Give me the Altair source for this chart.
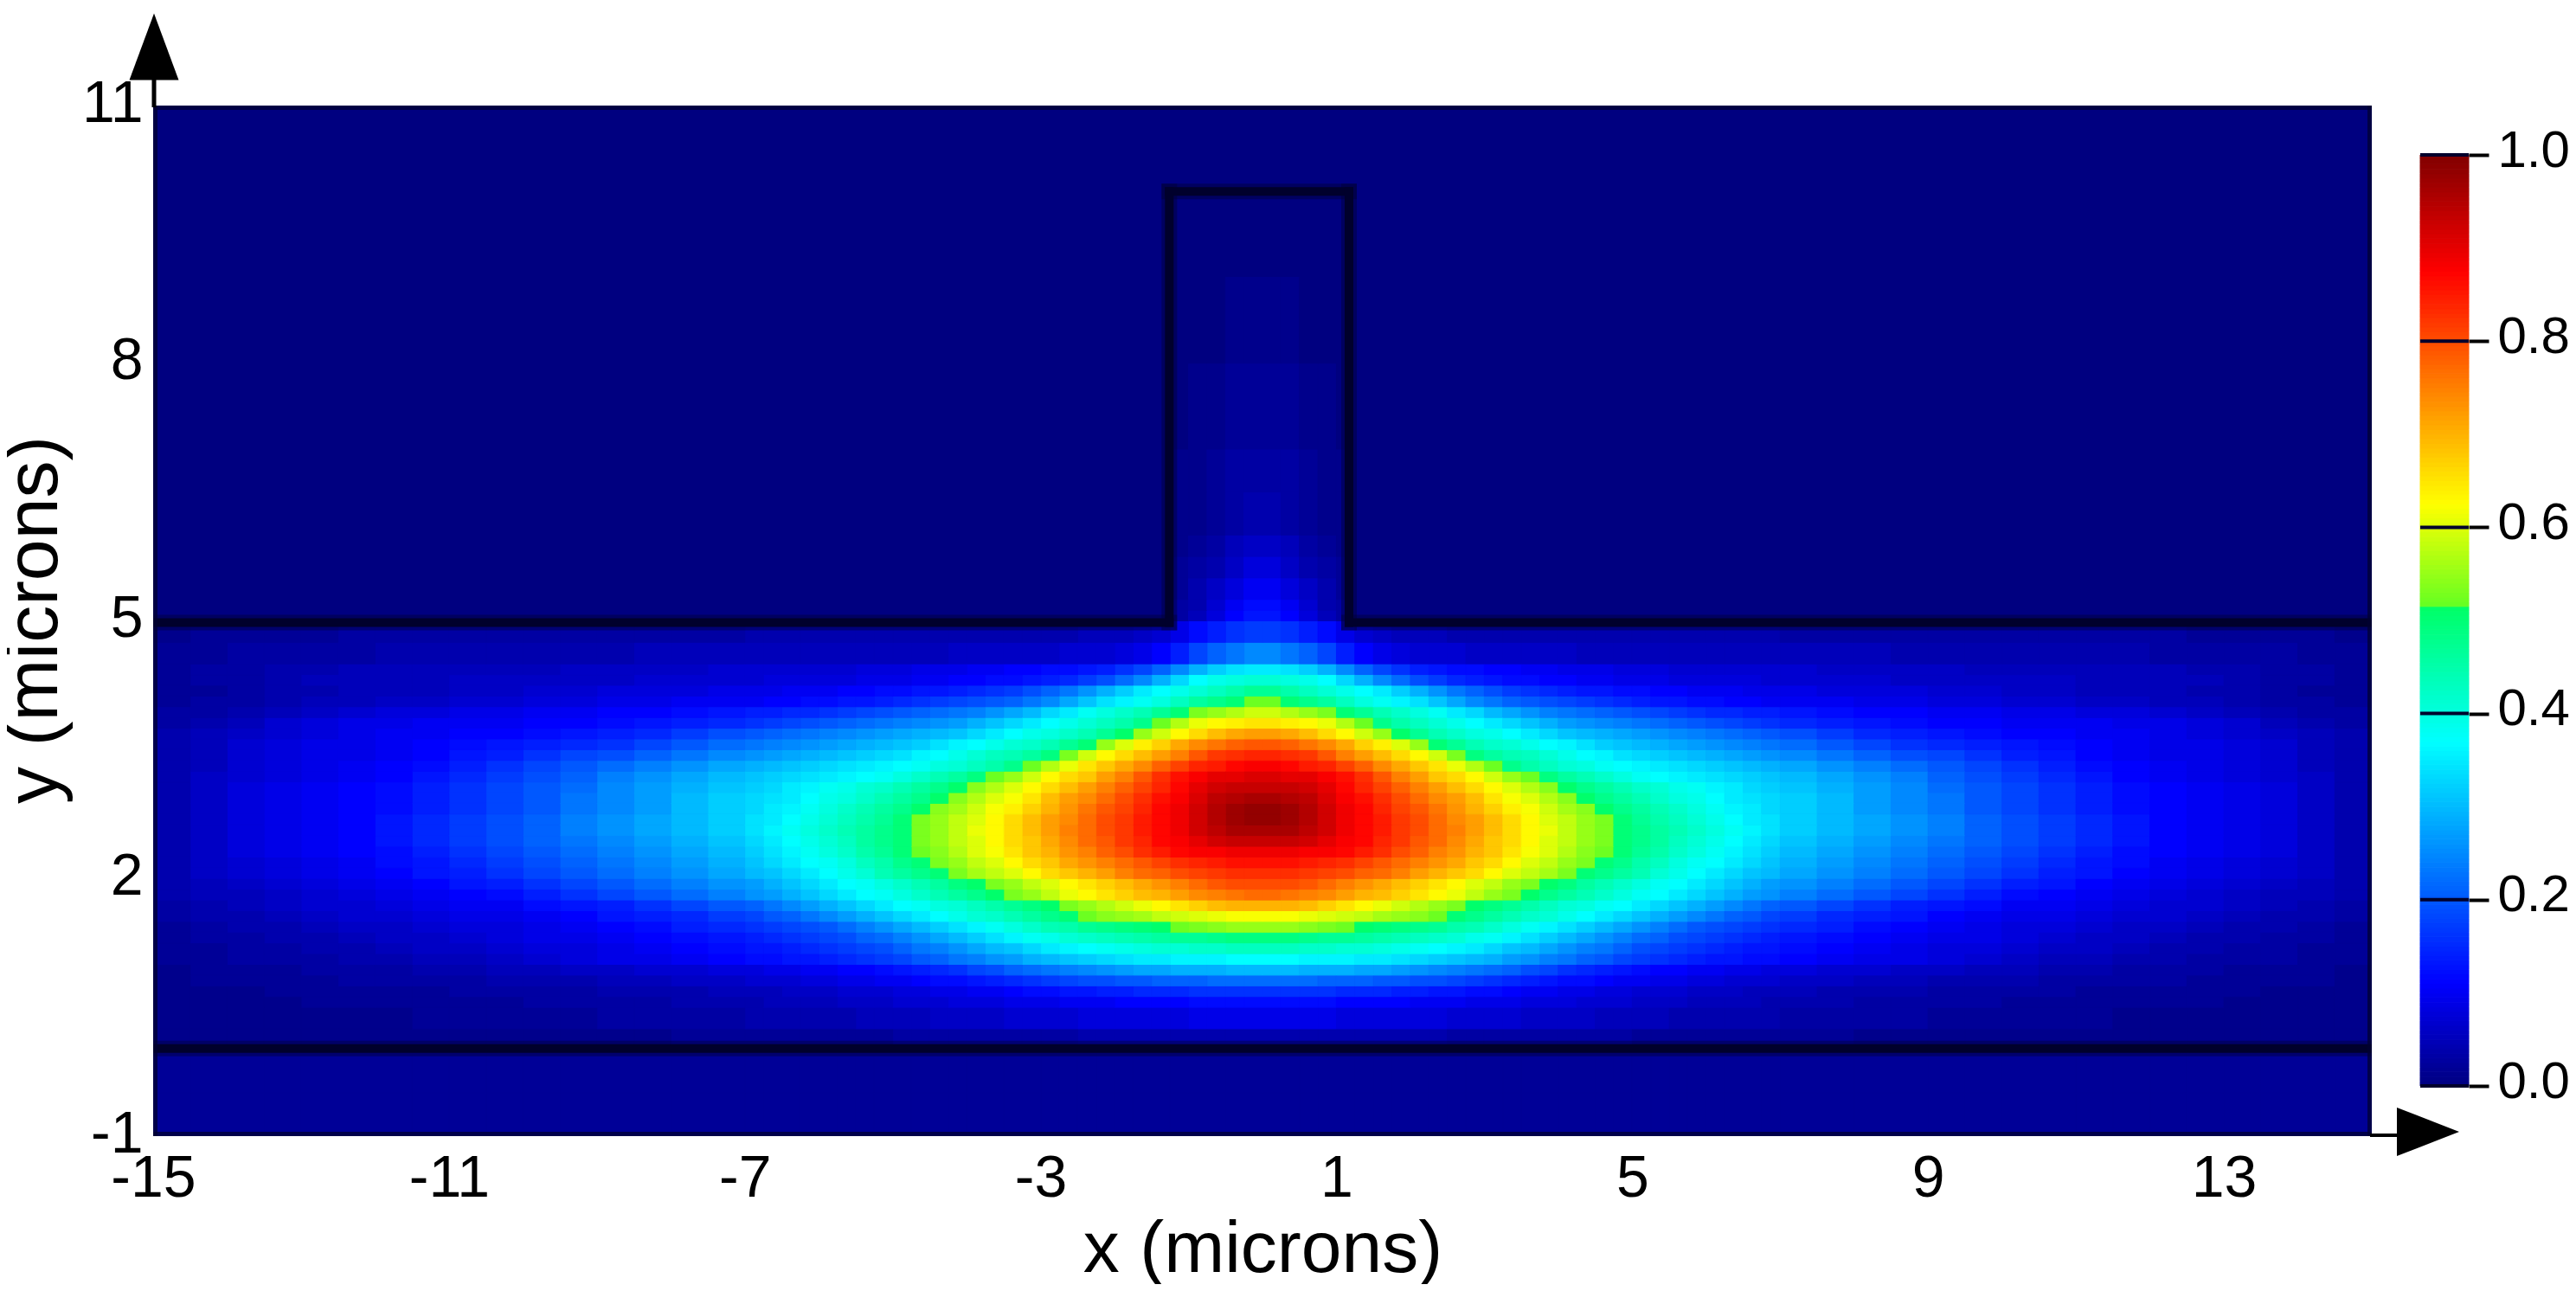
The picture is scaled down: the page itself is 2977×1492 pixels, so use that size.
import altair as alt
import pandas as pd

FONT = "Liberation Sans"
PW, PH = 2564, 1191

# Half-width column bands in microns: fine near the mode, coarse in the wings.
edges_a = [i * 0.25 for i in range(29)]
edges_b = [7.0 + i * 0.5 for i in range(17)]
# Intensity in percent of the peak (left/right nearly mirror each other).
y_rows = [
 (-1.0,-0.5,[2,2,2,2,2,2,2,2,2,2,2,2,2,2,2,2,2,2,2,2,2,2,2,2,2,2,2,2],[2,2,2,2,2,2,2,2,2,2,2,2,2,2,2,2]),
 (-0.5,0.0,[2,2,2,2,2,2,2,2,2,2,2,2,2,2,2,2,2,2,2,2,2,2,2,2,2,2,2,2],[2,2,2,2,2,2,2,2,2,2,2,2,2,2,2,2]),
 (0.0,0.25,[4,4,4,4,4,4,4,4,4,4,3,3,3,3,3,3,3,3,3,3,2,2,2,2,2,2,2,2],[2,2,1,1,1,1,1,1,1,1,1,1,1,1,1,1]),
 (0.25,0.5,[9,9,9,9,8,8,8,8,8,8,7,7,7,7,6,6,6,6,5,5,5,5,4,4,4,4,4,4],[3,3,3,3,2,2,2,2,2,1,1,1,1,1,1,1]),
 (0.5,0.625,[12,12,12,12,11,11,11,11,10,10,10,9,9,9,8,8,8,7,7,7,6,6,6,5,5,5,5,4],[4,4,3,3,3,3,2,2,2,2,2,2,1,1,1,1]),
 (0.625,0.75,[16,16,16,16,15,15,15,14,14,13,13,12,12,11,10,10,9,9,8,8,7,7,7,6,6,6,5,5],[5,4,4,4,3,3,3,3,2,2,2,2,2,1,1,1]),
 (0.75,0.875,[22,22,22,21,21,21,20,20,19,19,18,17,16,15,14,13,12,12,11,10,10,9,9,8,8,7,7,7],[6,6,5,5,4,4,4,3,3,3,3,2,2,2,2,1]),
 (0.875,1.0,[30,30,29,29,29,28,28,27,26,25,24,23,22,21,19,18,16,15,14,13,12,11,11,10,10,9,9,8],[8,7,7,6,6,5,5,4,4,3,3,3,2,2,2,1]),
 (1.0,1.125,[37,37,36,36,36,35,35,34,33,32,31,30,29,27,26,24,23,21,20,18,17,16,15,14,13,13,12,12],[11,10,9,9,8,7,6,5,5,4,4,3,3,3,2,2]),
 (1.125,1.25,[43,43,42,42,41,41,40,39,38,37,36,35,33,31,30,28,26,24,23,21,19,18,17,16,15,14,13,13],[12,11,10,9,8,8,7,6,6,5,4,4,3,3,2,2]),
 (1.25,1.375,[49,49,48,47,47,46,45,44,43,42,41,39,38,36,34,32,30,28,26,24,22,21,19,18,17,16,15,14],[13,12,11,10,9,9,8,7,6,6,5,4,4,3,3,2]),
 (1.375,1.5,[55,55,54,53,52,51,50,49,48,47,45,44,42,40,38,36,34,32,30,28,26,24,22,20,19,18,17,16],[15,14,12,11,10,9,8,8,7,6,6,5,4,4,3,2]),
 (1.5,1.625,[62,62,61,60,59,58,56,55,54,52,50,48,46,44,42,41,39,37,35,33,31,29,27,25,23,21,20,18],[17,15,14,13,11,10,9,9,8,7,7,6,5,4,4,3]),
 (1.625,1.75,[70,70,69,67,65,63,61,59,57,55,53,51,49,47,45,43,41,40,38,37,35,33,31,29,27,25,23,21],[20,18,16,14,13,12,10,10,9,8,7,7,6,5,4,3]),
 (1.75,1.875,[77,76,75,74,72,70,69,67,65,63,61,58,55,53,51,48,46,44,42,40,38,37,35,33,31,29,27,26],[24,22,20,18,16,14,12,11,10,9,8,7,6,5,5,4]),
 (1.875,2.0,[80,80,79,77,75,73,71,69,67,65,63,60,58,55,53,51,49,46,44,42,40,38,37,35,33,31,29,27],[26,24,22,20,18,16,14,13,11,10,9,8,7,6,5,4]),
 (2.0,2.125,[83,83,82,81,80,78,77,75,72,70,68,66,63,60,58,56,53,50,48,46,44,41,39,37,35,33,31,30],[28,26,24,22,20,18,16,14,13,11,10,9,8,7,6,4]),
 (2.125,2.25,[86,86,85,84,83,81,79,77,75,73,71,68,66,63,60,58,55,53,50,48,45,43,40,38,37,35,33,31],[29,27,25,23,21,19,17,15,13,12,10,9,8,7,6,4]),
 (2.25,2.375,[89,89,88,88,87,85,83,80,78,75,73,70,68,65,62,60,57,54,52,50,47,45,42,40,38,36,34,32],[30,28,26,24,22,20,18,16,14,12,11,10,9,8,6,4]),
 (2.375,2.5,[93,93,92,90,88,87,84,82,79,77,74,71,68,66,63,60,58,55,53,50,48,46,43,41,39,37,35,33],[31,29,27,25,23,21,19,17,15,13,11,10,9,8,6,4]),
 (2.5,2.625,[96,96,94,92,89,87,85,82,80,77,75,72,69,66,63,61,58,55,53,50,48,46,44,42,40,38,36,34],[32,30,28,26,24,21,19,17,15,13,11,10,9,8,6,4]),
 (2.625,2.75,[98,97,95,92,89,87,85,82,80,77,74,72,69,66,63,60,58,55,53,50,47,45,43,41,39,37,35,34],[32,30,28,26,24,21,19,17,15,13,11,10,9,8,6,4]),
 (2.75,2.875,[98,97,95,92,89,87,84,81,79,76,73,70,67,64,62,59,56,54,51,48,46,44,42,40,38,36,35,33],[32,30,27,25,23,20,18,16,14,12,11,10,9,8,6,4]),
 (2.875,3.0,[96,95,94,91,88,86,83,80,77,74,72,69,65,62,60,57,54,51,48,46,44,42,40,39,37,35,34,33],[32,30,27,25,23,20,18,16,14,12,11,10,9,8,6,4]),
 (3.0,3.125,[93,93,92,90,87,84,81,78,75,72,69,66,63,60,57,54,51,48,46,44,42,41,39,38,36,35,33,32],[31,29,27,25,22,20,18,16,14,12,11,10,9,8,6,4]),
 (3.125,3.25,[91,90,90,88,86,83,79,75,72,68,66,63,59,55,52,49,46,44,42,40,38,37,36,35,34,33,32,31],[30,28,26,24,21,19,17,15,13,11,10,9,8,7,6,4]),
 (3.25,3.375,[88,87,85,84,81,78,74,71,68,65,61,57,52,48,45,43,41,40,38,37,36,35,34,33,32,31,30,29],[28,26,24,22,20,18,16,14,12,11,10,9,8,7,5,4]),
 (3.375,3.5,[84,83,82,79,75,72,69,66,63,59,53,49,46,44,43,41,39,37,36,34,33,32,31,30,29,28,27,26],[25,23,21,19,18,16,14,13,11,10,9,9,8,7,5,4]),
 (3.5,3.625,[79,78,76,74,71,67,64,60,55,50,47,44,42,41,39,37,36,34,32,31,30,29,28,27,26,25,24,23],[22,20,18,16,15,14,13,12,11,10,9,9,8,7,5,4]),
 (3.625,3.75,[72,71,69,66,63,59,55,51,47,44,42,40,39,37,35,33,31,30,29,28,27,26,25,24,23,22,21,20],[19,17,15,14,13,12,11,11,10,10,9,8,7,6,5,4]),
 (3.75,3.875,[65,64,63,61,57,52,48,45,43,41,39,37,35,33,31,29,27,26,25,24,23,22,21,20,19,18,17,16],[15,14,13,12,11,11,10,10,10,9,9,8,7,5,4,3]),
 (3.875,4.0,[59,57,55,53,50,47,44,42,40,38,35,33,30,28,26,24,23,22,21,20,19,18,17,16,15,15,14,14],[13,12,11,11,10,10,9,9,8,8,7,6,5,4,3,3]),
 (4.0,4.125,[52,50,48,46,43,40,38,36,34,31,28,25,23,21,20,19,18,17,16,15,14,13,13,12,12,11,11,10],[10,10,9,9,8,8,7,7,6,6,5,5,4,3,3,2]),
 (4.125,4.25,[47,45,43,41,39,37,35,32,29,26,23,21,19,17,16,15,14,13,13,12,12,11,11,10,10,10,9,9],[9,8,8,8,7,7,6,6,5,5,5,4,4,3,2,2]),
 (4.25,4.375,[41,40,39,37,33,29,25,22,19,17,15,14,13,12,12,11,11,10,10,9,9,9,8,8,8,8,8,7],[7,7,7,6,6,6,6,6,5,5,5,5,4,3,3,2]),
 (4.375,4.5,[35,34,32,29,25,21,18,16,14,13,12,12,11,11,10,10,9,9,9,8,8,8,7,7,7,7,7,7],[7,6,6,6,6,5,5,5,5,5,5,4,4,3,3,2]),
 (4.5,4.75,[25,23,21,18,14,11,9,8,7,7,7,6,6,6,6,6,6,5,5,5,5,5,5,5,5,5,5,5],[5,5,5,4,4,4,4,4,4,4,3,3,3,3,2,2]),
 (4.75,5.0,[17,16,14,12,9,7,6,5,5,5,4,4,4,4,4,4,4,4,4,4,4,4,4,4,4,4,4,4],[3,3,3,3,3,3,3,3,3,3,3,2,2,2,2,1]),
]
# channel above the slab: x band edges and percent values
ch_edges = [-1.26, -1.0, -0.75, -0.5, -0.25, 0.0, 0.25, 0.5, 0.75, 1.0, 1.17]
ch_rows = [
 (5.0,5.125,[3,5,8,11,13,13,11,8,5,3]),
 (5.125,5.25,[3,4,7,10,12,12,10,7,4,3]),
 (5.25,5.5,[2,4,6,8,10,10,8,6,4,2]),
 (5.5,5.75,[2,3,4,6,8,8,6,4,3,2]),
 (5.75,6.0,[1,2,3,5,6,6,5,3,2,1]),
 (6.0,6.5,[1,1,2,3,4,4,3,2,1,1]),
 (6.5,7.0,[1,1,2,3,3,3,3,2,1,1]),
 (7.0,8.0,[0,1,1,2,2,2,2,1,1,0]),
 (8.0,9.0,[0,0,0,1,1,1,1,0,0,0]),
]
background = [(-15, 15, -1, 11, 0)]

x_ticks = [-15,-11,-7,-3,1,5,9,13]
y_ticks = [-1,2,5,8,11]
cbar_ticks = [0.0,0.2,0.4,0.6,0.8,1.0]
# structure outline segments (x, y, x2, y2)
segments = [(-15,4.98,-1.26,4.98),(-1.26,4.98,-1.26,10.0),(-1.26,10.0,1.17,10.0),(1.17,10.0,1.17,4.98),(1.17,4.98,15,4.98),(-15,0.02,15,0.02)]
frame = [(-15,-1,-15,11),(15,-1,15,11),(-15,-1,15,-1),(-15,11,15,11)]

cm_domain = [0,0.11,0.37,0.515,0.516,0.625,0.875,1.0]
cm_range = ["#000080","#0000ff","#00ffff","#00ff66","#66ff22","#ffff00","#ff0000","#800000"]
cbar_steps = 200

cells = []
for x0,x1,y0,y1,v in background:
    cells.append(dict(x=x0,x2=x1,y=y0,y2=y1,v=v))
for y0,y1,a,b in y_rows:
    for edges,vals in ((edges_a,a),(edges_b,b)):
        for lo,hi,p in zip(edges,edges[1:],vals):
            cells.append(dict(x=lo,x2=hi,y=y0,y2=y1,v=p/100))
            cells.append(dict(x=-hi,x2=-lo,y=y0,y2=y1,v=p/100))
for y0,y1,vals in ch_rows:
    for lo,hi,p in zip(ch_edges,ch_edges[1:],vals):
        cells.append(dict(x=lo,x2=hi,y=y0,y2=y1,v=p/100))
df = pd.DataFrame(cells)

cscale = alt.Scale(domain=cm_domain, range=cm_range, interpolate="rgb")
xs = alt.Scale(domain=[-15,15], nice=False, zero=False)
ys = alt.Scale(domain=[-1,11], nice=False, zero=False)
LAB = dict(labelFont=FONT, labelColor="black", titleFont=FONT, titleColor="black", titleFontWeight="normal")

heat = alt.Chart(df).mark_rect(strokeWidth=1, clip=True).encode(
    x=alt.X("x:Q", scale=xs, axis=alt.Axis(values=x_ticks, labelExpr="'' + datum.value", labelFontSize=68, labelPadding=15,
            tickSize=0, domain=False, grid=False, title="x (microns)", titleFontSize=84, titleY=90, labelFlush=False, **LAB)),
    x2="x2:Q",
    y=alt.Y("y:Q", scale=ys, axis=alt.Axis(values=y_ticks, labelExpr="'' + datum.value", labelFontSize=68, labelPadding=12,
            tickSize=0, domain=False, grid=False, title="y (microns)", titleFontSize=86, titleX=-94, titleY=594, labelFlush=False, labelOffset=-2, **LAB)),
    y2="y2:Q",
    color=alt.Color("v:Q", scale=cscale, legend=None),
    stroke=alt.Stroke("v:Q", scale=cscale, legend=None),
)

segdf = pd.DataFrame(segments, columns=["x","y","x2","y2"])
framedf = pd.DataFrame(frame, columns=["x","y","x2","y2"])
def rules(d, width, opacity, color):
    return alt.Chart(d).mark_rule(strokeWidth=width, opacity=opacity, color=color, strokeCap="square", clip=True).encode(
        x=alt.X("x:Q", scale=xs), x2="x2:Q", y=alt.Y("y:Q", scale=ys), y2="y2:Q")

line_soft = rules(segdf, 18, 0.4, "#000030")
line_core = rules(segdf, 10, 1, "#00002c")
frame_soft = rules(framedf, 10, 0.75, "#000030")

arrow_up = alt.Chart().mark_point(shape="M0,-1L0.74,1L-0.74,1Z", filled=True, size=5929, color="black", opacity=1).encode(
    x=alt.value(1), y=alt.value(-68))
stem_up = alt.Chart().mark_rule(color="black", strokeWidth=5).encode(x=alt.value(1), y=alt.value(-32), y2=alt.value(2))
arrow_r = alt.Chart().mark_point(shape="M1,0L-1,0.78L-1,-0.78Z", filled=True, size=5184, color="black", opacity=1).encode(
    x=alt.value(2629), y=alt.value(1186))
stem_r = alt.Chart().mark_rule(color="black", strokeWidth=4).encode(x=alt.value(2562), x2=alt.value(2600), y=alt.value(1190))

main = alt.layer(heat, line_soft, line_core, frame_soft, stem_up, arrow_up, stem_r, arrow_r)

bar_df = pd.DataFrame([dict(y=i/cbar_steps, y2=(i+1)/cbar_steps, v=(i+0.5)/cbar_steps) for i in range(cbar_steps)])
bscale = alt.Scale(domain=[0,1], range=[1133,57], nice=False, zero=False)
bar = alt.Chart(bar_df).mark_rect(strokeWidth=1).encode(
    x=alt.value(2620), x2=alt.value(2676),
    y=alt.Y("y:Q", scale=bscale, axis=alt.Axis(orient="right", offset=112, values=cbar_ticks, format=".1f", labelFontSize=60,
            tickSize=23, tickWidth=4, tickColor="black", labelPadding=10, domain=False, grid=False, title=None, labelOffset=-5, **LAB)),
    y2="y2:Q",
    color=alt.Color("v:Q", scale=cscale, legend=None),
    stroke=alt.Stroke("v:Q", scale=cscale, legend=None),
)
bar_ticks = alt.Chart(pd.DataFrame({"t": cbar_ticks})).mark_rule(color="#00002c", strokeWidth=4).encode(
    x=alt.value(2620), x2=alt.value(2676), y=alt.Y("t:Q", scale=bscale))
cbar = alt.layer(bar, bar_ticks)

chart = alt.layer(main, cbar).resolve_scale(y="independent").properties(
    width=PW, height=PH,
    autosize=alt.AutoSizeParams(type="none"),
    padding={"left":169,"top":114,"right":228,"bottom":171},
    background="white",
).configure_view(stroke=None)

chart.save("out.html", embed_options={"renderer": "svg", "actions": False})
